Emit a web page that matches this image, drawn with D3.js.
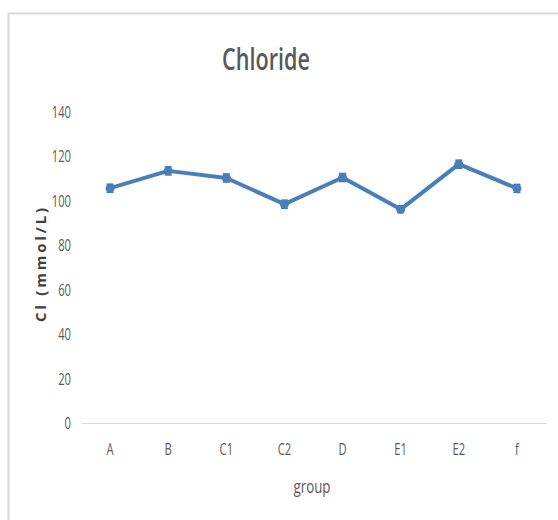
<!DOCTYPE html>
<html><head><meta charset="utf-8">
<script src="https://cdn.jsdelivr.net/npm/d3@7"></script>
<style>
html,body{margin:0;padding:0;background:#fff;}
svg{display:block;}
text{font-family:"Open Sans","DejaVu Sans",sans-serif;}
</style></head>
<body>
<svg id="c" width="558" height="520"></svg>
<script>
const categories = ["A","B","C1","C2","D","E1","E2","f"];
const values = [105.7, 113.5, 110.3, 98.5, 110.5, 96.2, 116.5, 105.6];
const errors = [1.8, 1.8, 1.8, 1.8, 1.8, 1.5, 1.8, 1.8];
const yTicks = [0,20,40,60,80,100,120,140];
const title = "Chloride";
const xTitle = "group";
const yTitle = "Cl (mmol/L)";

const svg = d3.select("#c");
const color = "#4a7ebb";

// chart border
svg.append("rect").attr("x",8.5).attr("y",13.5).attr("width",560).attr("height",520)
  .attr("fill","none").attr("stroke","#d9d9d9").attr("stroke-width",2);

const x = d3.scaleBand().domain(categories).range([81,546]);
const y = d3.scaleLinear().domain([0,140]).range([423,112]);

// title
svg.append("text").attr("transform","translate(266,70) scale(0.72,1)").attr("text-anchor","middle")
  .attr("font-size",30).attr("font-weight",600).attr("fill","#595959").text(title);

// y ticks
const yAxis = d3.axisLeft(y).tickValues(yTicks).tickSize(0).tickPadding(0);
const gy = svg.append("g").attr("transform","translate(71,0)").call(yAxis);
gy.select(".domain").remove();
gy.selectAll("text").attr("font-size",17).attr("fill","#595959")
  .attr("font-family",'"Open Sans",sans-serif').attr("transform","scale(0.66,1)");

// x axis
const xAxis = d3.axisBottom(x).tickSize(0).tickPadding(0);
const gx = svg.append("g").attr("transform","translate(0,423)").call(xAxis);
gx.select(".domain").attr("stroke","#d9d9d9").attr("stroke-width",1);
gx.selectAll("text").attr("dy","1.9em").attr("font-size",17).attr("fill","#595959")
  .attr("font-family",'"Open Sans",sans-serif').attr("transform","scale(0.66,1)");

// axis titles
svg.append("text").attr("transform","translate(312,493) scale(0.74,1)").attr("text-anchor","middle")
  .attr("font-size",18).attr("fill","#595959").text(xTitle);
svg.append("text").attr("transform","translate(46,265) rotate(-90)")
  .attr("text-anchor","middle").attr("font-size",15).attr("font-weight","bold")
  .attr("fill","#404040").attr("font-family",'"Open Sans","DejaVu Sans",sans-serif')
  .attr("textLength",114).attr("lengthAdjust","spacing").text(yTitle);

const cx = d => x(d) + x.bandwidth()/2;
const data = categories.map((c,i)=>({c, v:values[i], e:errors[i]}));

// error bars
const eb = svg.append("g").attr("stroke","#3d6ea8").attr("stroke-width",1.5);
data.forEach(d=>{
  eb.append("line").attr("x1",cx(d.c)).attr("x2",cx(d.c)).attr("y1",y(d.v+d.e)).attr("y2",y(d.v-d.e));
  eb.append("line").attr("x1",cx(d.c)-3.5).attr("x2",cx(d.c)+3.5).attr("y1",y(d.v+d.e)).attr("y2",y(d.v+d.e));
  eb.append("line").attr("x1",cx(d.c)-3.5).attr("x2",cx(d.c)+3.5).attr("y1",y(d.v-d.e)).attr("y2",y(d.v-d.e));
});

// line
const line = d3.line().x(d=>cx(d.c)).y(d=>y(d.v));
svg.append("path").datum(data).attr("d",line).attr("fill","none")
  .attr("stroke",color).attr("stroke-width",4).attr("stroke-linejoin","round");

// markers
svg.append("g").selectAll("circle").data(data).join("circle")
  .attr("cx",d=>cx(d.c)).attr("cy",d=>y(d.v)).attr("r",4.5).attr("fill",color);
</script>
</body></html>
